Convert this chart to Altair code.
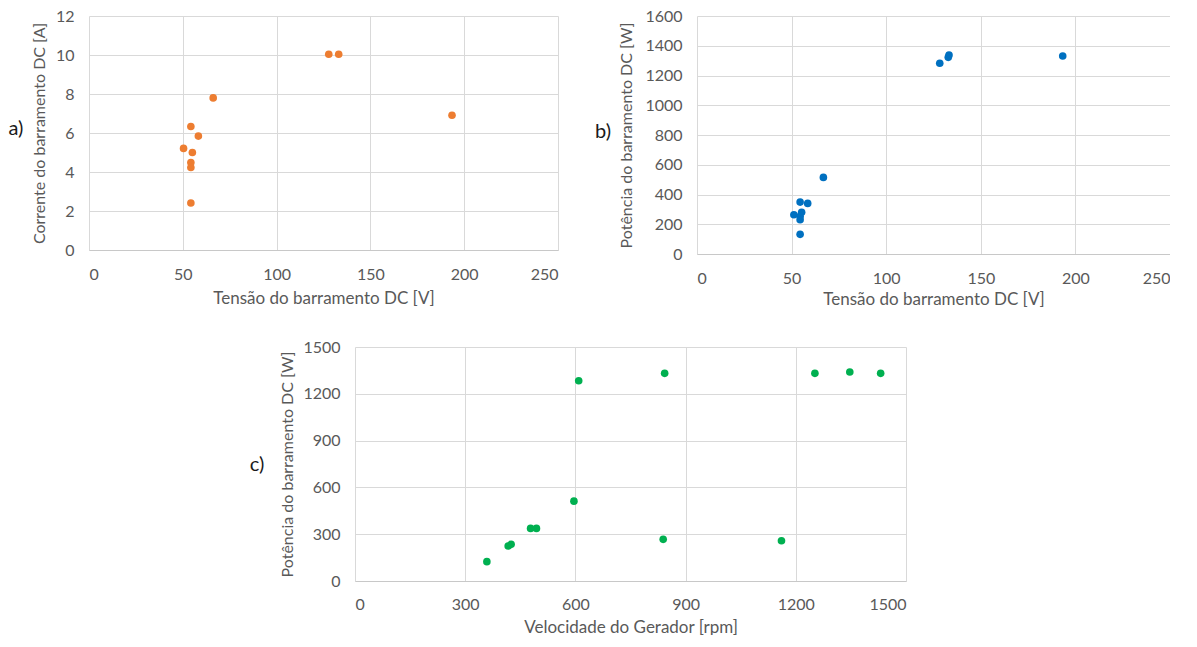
import altair as alt
import pandas as pd

# Panel a) – DC bus voltage [V] vs DC bus current [A]
a_voltage = [50.4, 54.3, 58.3, 55.1, 54.3, 54.3, 54.3, 66.2, 127.8, 133.1, 193.5]
a_current = [5.21, 6.33, 5.84, 5.00, 4.49, 4.23, 2.41, 7.80, 10.04, 10.04, 6.91]

# Panel b) – DC bus voltage [V] vs DC bus power [W]
b_voltage = [51.2, 54.5, 58.5, 55.3, 54.5, 54.5, 54.5, 66.8, 128.3, 133.2, 132.8, 193.3]
b_power = [264, 349, 340, 280, 253, 230, 132, 515, 1282, 1338, 1322, 1331]

# Panel c) – generator speed [rpm] vs DC bus power [W]
c_speed = [359, 417, 425, 478, 494, 596, 609, 843, 839, 1161, 1252, 1347, 1431]
c_power = [124, 224, 235, 337, 337, 512, 1284, 1331, 267, 258, 1331, 1340, 1331]

a_xticks = [0, 50, 100, 150, 200, 250]
a_yticks = [0, 2, 4, 6, 8, 10, 12]
b_xticks = [0, 50, 100, 150, 200, 250]
b_yticks = [0, 200, 400, 600, 800, 1000, 1200, 1400, 1600]
c_xticks = [0, 300, 600, 900, 1200, 1500]
c_yticks = [0, 300, 600, 900, 1200, 1500]

FONT = "Lato"


def panel(xs, ys, xdom, ydom, xvals, yvals, xtitle, ytitle, color, w, h,
          label, lx, ly, xlpad, xtpad, ytpad):
    df = pd.DataFrame({"x": xs, "y": ys})
    pts = alt.Chart(df).mark_circle(size=58, opacity=1, color=color).encode(
        x=alt.X("x:Q",
                scale=alt.Scale(domain=xdom, nice=False, zero=True),
                axis=alt.Axis(values=xvals, title=xtitle, titlePadding=xtpad,
                              titleFontSize=17,
                              format="d", labelPadding=xlpad, domainColor="#c8c8c8")),
        y=alt.Y("y:Q",
                scale=alt.Scale(domain=ydom, nice=False, zero=True),
                axis=alt.Axis(values=yvals, title=ytitle, titlePadding=ytpad,
                              titleFontSize=16,
                              format="d", labelPadding=15, domain=False)),
    )
    lab = alt.Chart(pd.DataFrame({"t": [label]})).mark_text(
        font=FONT, fontSize=20, color="#1a1a1a", align="center", baseline="middle"
    ).encode(text="t:N", x=alt.value(lx), y=alt.value(ly))
    return alt.layer(pts, lab).properties(width=w, height=h)


chart_a = panel(a_voltage, a_current, [0, 250], [0, 12], a_xticks, a_yticks,
                "Tensão do barramento DC [V]", "Corrente do barramento DC [A]",
                "#ED7D31", 469, 234, "a)", -73, 113, 16, 8, 8)
chart_b = panel(b_voltage, b_power, [0, 250], [0, 1600], b_xticks, b_yticks,
                "Tensão do barramento DC [V]", "Potência do barramento DC [W]",
                "#0070C0", 473, 238, "b)", -94, 116, 16, 5, 10)
chart_c = panel(c_speed, c_power, [0, 1500], [0, 1500], c_xticks, c_yticks,
                "Velocidade do Gerador [rpm]", "Potência do barramento DC [W]",
                "#00B050", 551, 234, "c)", -98, 118, 15, 7, 7)

spacer = alt.Chart(pd.DataFrame({"v": [0]})).mark_point(opacity=0).encode(
    x=alt.X("v:Q", axis=None), y=alt.Y("v:Q", axis=None)
).properties(width=160, height=234)

row1 = alt.hconcat(chart_a, chart_b, spacing=37)
row2 = alt.hconcat(spacer, chart_c, spacing=0)

chart = alt.vconcat(row1, row2, spacing=32).properties(
    padding={"left": 0, "top": 0, "right": 0, "bottom": 0},
    background="white",
).configure_view(
    strokeWidth=0
).configure_axis(
    labelFont=FONT, labelFontSize=16, labelColor="#595959",
    titleFont=FONT, titleFontWeight="normal", titleColor="#595959",
    ticks=False, tickSize=0,
    gridColor="#d9d9d9", gridWidth=1,
)

chart.save("out.html", embed_options={"renderer": "svg", "actions": False})
